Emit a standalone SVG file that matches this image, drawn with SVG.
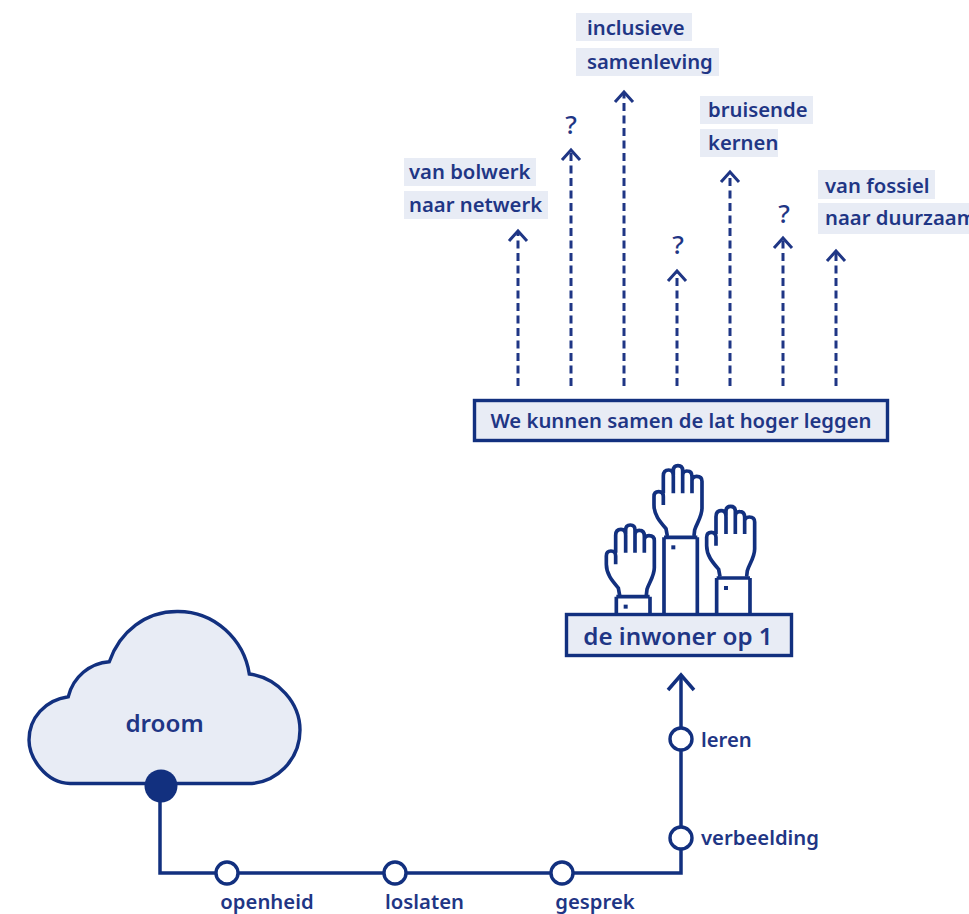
<svg xmlns="http://www.w3.org/2000/svg" xmlns:xlink="http://www.w3.org/1999/xlink" width="969" height="914" viewBox="0 0 969 914">
<style>
text{font-family:"Noto Sans","Open Sans",sans-serif;font-weight:600;fill:#1f3685;font-size:20.300px}
.big{font-size:24.200px}
.q{font-size:26px;font-weight:500}
.lab{fill:#e8ecf5}
.box{fill:#e8ecf5;stroke:#12307f;stroke-width:3.400}
.line{fill:none;stroke:#12307f;stroke-width:3.500}
.dash{fill:none;stroke:#1f3685;stroke-width:3;stroke-dasharray:8 4.500}
.head{fill:none;stroke:#1f3685;stroke-width:3}
.stop{fill:#fff;stroke:#12307f;stroke-width:3.400}
.hand{fill:none;stroke:#12307f;stroke-width:11}
</style>
<defs>
<g id="hand">
<path class="hand" d="M232 258L228 236C210 215 192 195 192 165L192 140Q192 125 206 125Q220 125 220 140L220 165M220 130L220 78Q220 60 236 60Q250 60 250 78L250 130M250 75L250 62Q250 47 264 47Q278 47 278 62L278 130M278 78Q278 62 292 63Q306 63 306 80L306 130M306 92Q306 79 320 79Q336 79 336 94L336 175C336 200 320 220 314 240L312 258"/>
<path class="hand" d="M222 262L322 262"/>
<rect x="244" y="286" width="12" height="12" fill="#12307f"/>
</g>
</defs>
<g id="connectors">
<path class="line" d="M160 786V873H681V677"/>
<path class="line" d="M668 690L681 675L694 690"/>
<path class="dash" d="M518 386V233"/><path class="head" d="M509 241L518 231L527 241"/>
<path class="dash" d="M571 386V152"/><path class="head" d="M562 160L571 150L580 160"/>
<path class="dash" d="M624 386V94"/><path class="head" d="M615 102L624 92L633 102"/>
<path class="dash" d="M677 386V273"/><path class="head" d="M668 281L677 271L686 281"/>
<path class="dash" d="M730 386V174"/><path class="head" d="M721 182L730 172L739 182"/>
<path class="dash" d="M783 386V240"/><path class="head" d="M774 248L783 238L792 248"/>
<path class="dash" d="M836 386V253"/><path class="head" d="M827 261L836 251L845 261"/>
</g>
<g id="node-cloud">
<path d="M70 783.500C45 783 29 757 29 740C29 718 45 700 68.300 696.700C73 677 90 663 109.300 661.700C120 631 146 611.500 177 611.500C215 611 244 640 249.300 674C278 678 300 703 300 730C300 760 276 783.500 248 783.500Z" fill="#e8ecf5" stroke="#12307f" stroke-width="3.400"/>
<text class="big" x="164.500" y="732" text-anchor="middle">droom</text>
<circle cx="161" cy="786" r="16.500" fill="#12307f"/>
</g>
<g id="node-openheid"><circle class="stop" cx="227" cy="873" r="11"/><text x="267" y="909" text-anchor="middle">openheid</text></g>
<g id="node-loslaten"><circle class="stop" cx="395" cy="873" r="11"/><text x="424.500" y="909" text-anchor="middle">loslaten</text></g>
<g id="node-gesprek"><circle class="stop" cx="562" cy="873" r="11"/><text x="595" y="909" text-anchor="middle">gesprek</text></g>
<g id="node-verbeelding"><circle class="stop" cx="681" cy="838" r="11"/><text x="701" y="845">verbeelding</text></g>
<g id="node-leren"><circle class="stop" cx="681" cy="739" r="11"/><text x="701" y="747">leren</text></g>
<g id="node-hands">
<g transform="translate(590 450) scale(.3333)">
<use xlink:href="#hand" href="#hand" x="-143" y="178"/>
<use xlink:href="#hand" href="#hand" x="158" y="122"/>
<use xlink:href="#hand" href="#hand"/>
<path class="hand" d="M79 440V495M180 440V495M222 262V495M322 262V495M380 384V495M480 384V495"/>
</g>
</g>
<g id="node-inwoner"><rect class="box" x="566.500" y="614.500" width="225" height="41"/><text class="big" x="678" y="645" text-anchor="middle">de inwoner op 1</text></g>
<g id="node-lat"><rect class="box" x="474.500" y="400.500" width="413" height="40"/><text x="681" y="428" text-anchor="middle">We kunnen samen de lat hoger leggen</text></g>
<g id="node-bolwerk">
<rect class="lab" x="404" y="158" width="132" height="28"/><text x="409" y="179">van bolwerk</text>
<rect class="lab" x="404" y="191" width="144" height="28"/><text x="409" y="212">naar netwerk</text>
</g>
<g id="node-q1"><text class="q" x="571" y="134" text-anchor="middle">?</text></g>
<g id="node-samenleving">
<rect class="lab" x="576" y="13" width="116" height="28"/><text x="587" y="35">inclusieve</text>
<rect class="lab" x="576" y="48" width="143" height="28"/><text x="587" y="69">samenleving</text>
</g>
<g id="node-q2"><text class="q" x="678" y="254" text-anchor="middle">?</text></g>
<g id="node-kernen">
<rect class="lab" x="700" y="96" width="113" height="28"/><text x="708" y="117">bruisende</text>
<rect class="lab" x="700" y="129" width="78" height="28"/><text x="708" y="150">kernen</text>
</g>
<g id="node-q3"><text class="q" x="784" y="223" text-anchor="middle">?</text></g>
<g id="node-fossiel">
<rect class="lab" x="818" y="170" width="117" height="29"/><text x="825" y="193">van fossiel</text>
<rect class="lab" x="818" y="203" width="151" height="31"/><text x="825" y="225">naar duurzaam</text>
</g>
</svg>
